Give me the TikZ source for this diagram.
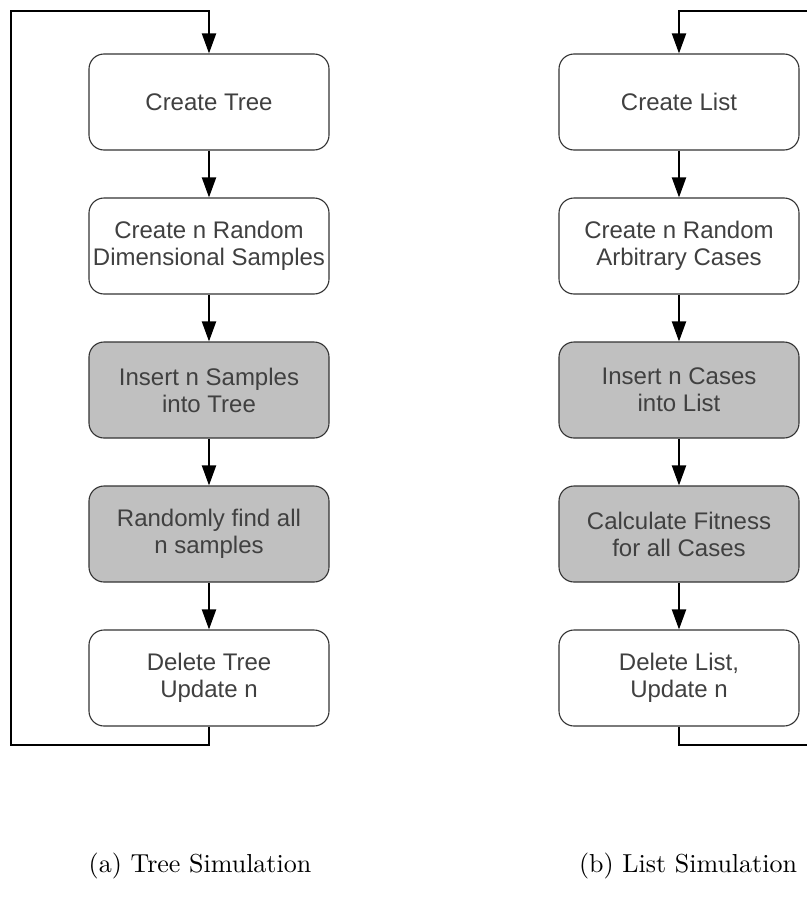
\documentclass[tikz,border=0pt]{standalone}
\usepackage{fontspec}
\setmainfont{Latin Modern Roman}
\newfontfamily\boxfont{Liberation Sans}
\usetikzlibrary{arrows.meta,positioning}
\definecolor{boxtext}{HTML}{404040}
\definecolor{boxgray}{HTML}{C0C0C0}
\definecolor{boxline}{HTML}{333333}
\tikzset{
  flowbox/.style={draw=boxline, line width=1.1pt, rounded corners=15pt,
    minimum width=240pt, minimum height=96pt, inner sep=0pt,
    align=center, text=boxtext, font=\boxfont\fontsize{24}{27}\selectfont, fill=white},
  grayflow/.style={flowbox, fill=boxgray},
  conn/.style={line width=2pt, -{Triangle[length=20pt,width=14pt]}},
  plainconn/.style={line width=2pt},
  capt/.style={font=\fontsize{10}{12}\selectfont, anchor=base, scale=2.6, inner sep=0pt}
}
\begin{document}
\begin{tikzpicture}[x=1pt,y=-1pt]
\useasboundingbox (0,0) rectangle (806,902);
% left column
\node[flowbox] (t1) at (209,102) {Create Tree};
\node[flowbox] (t2) at (209,246) {Create n Random\\Dimensional Samples};
\node[grayflow] (t3) at (209,390) {Insert n Samples\\into Tree};
\node[grayflow] (t4) at (209,534) {Randomly find all\\n samples};
\node[flowbox] (t5) at (209,678) {Delete Tree\\Update n};
% right column
\node[flowbox] (l1) at (679,102) {Create List};
\node[flowbox] (l2) at (679,246) {Create n Random\\Arbitrary Cases};
\node[grayflow] (l3) at (679,390) {Insert n Cases\\into List};
\node[grayflow] (l4) at (679,534) {Calculate Fitness\\for all Cases};
\node[flowbox] (l5) at (679,678) {Delete List,\\Update n};
% arrows
\draw[conn] (t1) -- (t2);
\draw[conn] (t2) -- (t3);
\draw[conn] (t3) -- (t4);
\draw[conn] (t4) -- (t5);
\draw[conn] (l1) -- (l2);
\draw[conn] (l2) -- (l3);
\draw[conn] (l3) -- (l4);
\draw[conn] (l4) -- (l5);
% loops
\coordinate (tl) at (11,11);
\coordinate (bl) at (11,745);
\draw[conn] (t5.south) |- (bl) -- (tl) -| (t1.north);
\coordinate (tr) at (807,11);
\coordinate (br) at (807,745);
\draw[plainconn] (l5.south) |- (br);
\draw[conn] (tr) -| (l1.north);
% captions
\node[capt] (ca) at (200,872) {(a) Tree Simulation};
\node[capt] (cb) at (688,872) {(b) List Simulation};
\end{tikzpicture}
\end{document}
